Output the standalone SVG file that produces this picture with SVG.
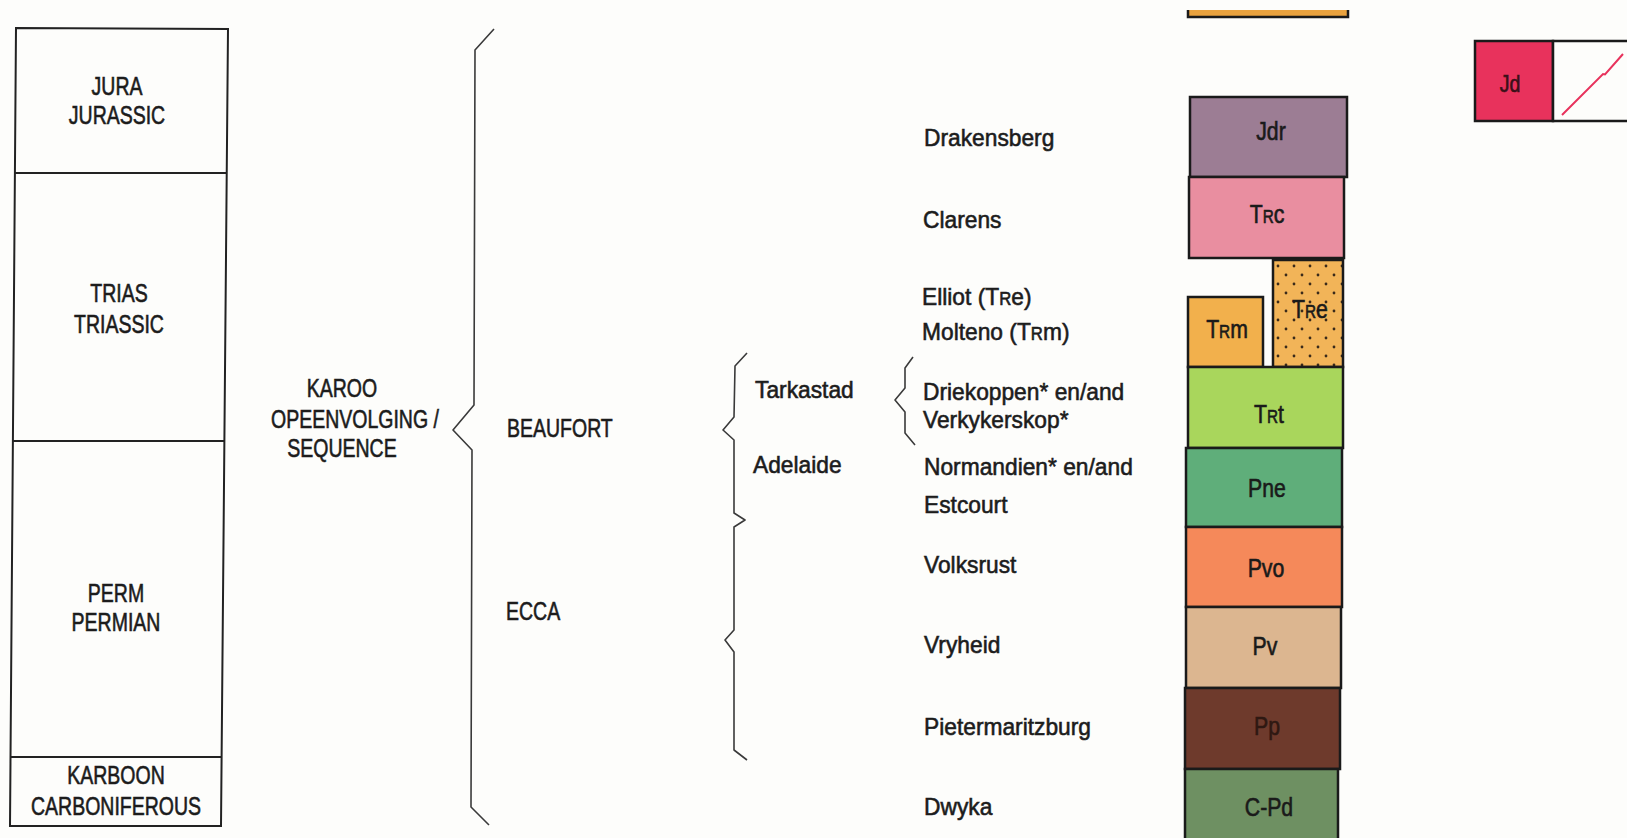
<svg xmlns="http://www.w3.org/2000/svg" width="1627" height="838" viewBox="0 0 1627 838">
<defs>
<style>
.t{font-family:"Liberation Sans",Arial,sans-serif;fill:#1c1c1c;stroke:#1c1c1c;stroke-width:0.6px}
.cap{font-size:25px;text-anchor:middle}
.mix{font-size:24.5px;text-anchor:start}
.lbl{font-size:25px;text-anchor:middle;fill:#1a1a1a;stroke:#1a1a1a}
.sc{font-size:18px}
.box{stroke:#1a1a1a;stroke-width:2.5}
.frame{fill:none;stroke:#222;stroke-width:2}
.brace{fill:none;stroke:#3a3a3a;stroke-width:1.6;stroke-linejoin:round}
</style>
<pattern id="dots" width="16" height="18" patternUnits="userSpaceOnUse" x="1273" y="262">
<rect width="16" height="18" fill="#f2b458"/>
<circle cx="5" cy="4" r="1.4" fill="#3a2a1a"/>
<circle cx="13" cy="13" r="1.4" fill="#3a2a1a"/>
</pattern>
</defs>
<rect width="1627" height="838" fill="#fdfdfb"/>

<g id="periods">
<path class="frame" d="M16,28 L228,29 L221,826 L10,826 Z"/>
<line class="frame" x1="15" y1="173" x2="227" y2="173"/>
<line class="frame" x1="13" y1="441" x2="224" y2="441"/>
<line class="frame" x1="10.5" y1="757" x2="221.5" y2="757"/>
</g>
<g id="jurassic">
<text class="t cap" transform="translate(117,95) scale(0.78,1)">JURA</text>
<text class="t cap" transform="translate(117,124) scale(0.78,1)">JURASSIC</text>
</g>
<g id="triassic">
<text class="t cap" transform="translate(119,302) scale(0.78,1)">TRIAS</text>
<text class="t cap" transform="translate(119,333) scale(0.78,1)">TRIASSIC</text>
</g>
<g id="permian">
<text class="t cap" transform="translate(116,602) scale(0.78,1)">PERM</text>
<text class="t cap" transform="translate(116,631) scale(0.78,1)">PERMIAN</text>
</g>
<g id="carboniferous">
<text class="t cap" transform="translate(116,784) scale(0.78,1)">KARBOON</text>
<text class="t cap" transform="translate(116,815) scale(0.78,1)">CARBONIFEROUS</text>
</g>

<g id="karoo">
<text class="t cap" transform="translate(342,397) scale(0.78,1)">KAROO</text>
<text class="t cap" transform="translate(355,428) scale(0.78,1)">OPEENVOLGING /</text>
<text class="t cap" transform="translate(342,457) scale(0.78,1)">SEQUENCE</text>
</g>
<g id="groups">
<text class="t cap" style="text-anchor:start" transform="translate(507,437) scale(0.78,1)">BEAUFORT</text>
<text class="t cap" style="text-anchor:start" transform="translate(506,620) scale(0.78,1)">ECCA</text>
</g>
<g id="subgroups">
<text class="t mix" transform="translate(755,398) scale(0.93,1)">Tarkastad</text>
<text class="t mix" transform="translate(753,473) scale(0.93,1)">Adelaide</text>
</g>

<g id="connectors">
<path class="brace" d="M494,29 L475,50 L474,405 L453,430 L472,450 L471,807 L489,825"/>
<path class="brace" d="M747,353 L735,366 L734,417 L723,430 L734,440 L734,513 L745,520 L734,527 L734,630 L725,640 L734,652 L734,750 L747,760"/>
<path class="brace" d="M913,357 L905,368 L905,388 L895,400 L905,412 L905,433 L915,445"/>
</g>

<g id="formation-names">
<text class="t mix" transform="translate(924,146) scale(0.93,1)">Drakensberg</text>
<text class="t mix" transform="translate(923,228) scale(0.93,1)">Clarens</text>
<text class="t mix" transform="translate(922,305) scale(0.93,1)">Elliot (T<tspan class="sc">R</tspan>e)</text>
<text class="t mix" transform="translate(922,340) scale(0.93,1)">Molteno (T<tspan class="sc">R</tspan>m)</text>
<text class="t mix" transform="translate(923,400) scale(0.93,1)">Driekoppen* en/and</text>
<text class="t mix" transform="translate(923,428) scale(0.93,1)">Verkykerskop*</text>
<text class="t mix" transform="translate(924,475) scale(0.93,1)">Normandien* en/and</text>
<text class="t mix" transform="translate(924,513) scale(0.93,1)">Estcourt</text>
<text class="t mix" transform="translate(924,573) scale(0.93,1)">Volksrust</text>
<text class="t mix" transform="translate(924,653) scale(0.93,1)">Vryheid</text>
<text class="t mix" transform="translate(924,735) scale(0.93,1)">Pietermaritzburg</text>
<text class="t mix" transform="translate(924,815) scale(0.93,1)">Dwyka</text>
</g>

<g id="top-unit">
<rect x="1188" y="10" width="160" height="6" fill="#e9a23e"/>
<path d="M1188,10 L1188,17 L1348,17 L1348,10" fill="none" stroke="#1a1a1a" stroke-width="2.5"/>
</g>
<g id="Jdr">
<rect class="box" x="1190" y="97" width="157" height="80" fill="#9c7d94"/>
<text class="t lbl" transform="translate(1271,140) scale(0.85,1)">Jdr</text>
</g>
<g id="Trc">
<rect class="box" x="1189" y="177" width="155" height="81" fill="#e98ea0"/>
<text class="t lbl" transform="translate(1267,223) scale(0.85,1)">T<tspan class="sc">R</tspan>c</text>
</g>
<g id="Trm">
<rect class="box" x="1188" y="297" width="75" height="70" fill="#f2b04c"/>
<text class="t lbl" transform="translate(1227,338) scale(0.85,1)">T<tspan class="sc">R</tspan>m</text>
</g>
<g id="Tre">
<rect class="box" x="1273" y="260" width="70" height="107" fill="url(#dots)"/>
<text class="t lbl" transform="translate(1310,318) scale(0.85,1)">T<tspan class="sc">R</tspan>e</text>
</g>
<g id="Trt">
<rect class="box" x="1188" y="367" width="155" height="81" fill="#a9d65c"/>
<text class="t lbl" transform="translate(1269,423) scale(0.85,1)">T<tspan class="sc">R</tspan>t</text>
</g>
<g id="Pne">
<rect class="box" x="1186" y="448" width="156" height="79" fill="#5fae7a"/>
<text class="t lbl" transform="translate(1267,497) scale(0.85,1)">Pne</text>
</g>
<g id="Pvo">
<rect class="box" x="1186" y="527" width="156" height="80" fill="#f5895a"/>
<text class="t lbl" transform="translate(1266,577) scale(0.85,1)">Pvo</text>
</g>
<g id="Pv">
<rect class="box" x="1186" y="607" width="155" height="81" fill="#dcb690"/>
<text class="t lbl" transform="translate(1265,655) scale(0.85,1)">Pv</text>
</g>
<g id="Pp">
<rect class="box" x="1185" y="688" width="155" height="81" fill="#6e3a2c"/>
<text class="t lbl" style="fill:#2e1812;stroke:#2e1812" transform="translate(1267,735) scale(0.85,1)">Pp</text>
</g>
<g id="CPd">
<rect class="box" x="1185" y="769" width="153" height="80" fill="#6e9062"/>
<text class="t lbl" transform="translate(1269,816) scale(0.85,1)">C-Pd</text>
</g>

<g id="legend-Jd">
<rect class="box" x="1475" y="41" width="78" height="80" fill="#e8325c"/>
<rect class="box" x="1553" y="41" width="90" height="80" fill="#fdfdfb"/>
<text class="t lbl" style="font-size:23px;fill:#3a1018;stroke:#3a1018" transform="translate(1510,92) scale(0.85,1)">Jd</text>
<path d="M1562,115 L1603,74 L1605,74.5 L1623,54" fill="none" stroke="#e8325c" stroke-width="2"/>
</g>
</svg>
